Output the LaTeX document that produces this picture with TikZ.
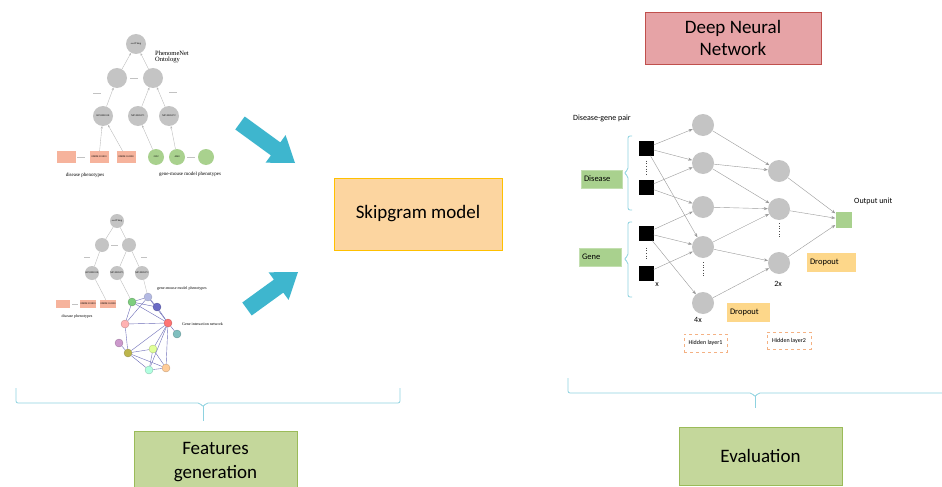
\documentclass[tikz,border=0pt]{standalone}
\usepackage{fontspec}
\setmainfont{Carlito}
\newfontfamily\ontofont{Liberation Serif}
\usetikzlibrary{arrows.meta}
\definecolor{cgray}{HTML}{C4C4C4}
\definecolor{csalmon}{HTML}{F6B39C}
\definecolor{cgreen}{HTML}{A9D18E}
\definecolor{cblue}{HTML}{3EB6CE}
\definecolor{cbrace}{HTML}{8ED2E0}
\definecolor{cskipfill}{HTML}{FCD5A0}
\definecolor{cskipdraw}{HTML}{FFC000}
\definecolor{cdnnfill}{HTML}{E6A3A6}
\definecolor{cdnndraw}{HTML}{C0504D}
\definecolor{cevalfill}{HTML}{C4D79B}
\definecolor{cevaldraw}{HTML}{9BBB59}
\definecolor{cdrop}{HTML}{FDD78A}
\definecolor{chid}{HTML}{F4B183}
\definecolor{cline}{HTML}{9A9A9A}
\tikzset{
  ocirc/.style={circle, fill=cgray, inner sep=0pt, minimum size=#1, font=\ontofont\fontsize{2.5}{3}\selectfont},
  osq/.style={rectangle, fill=csalmon, inner sep=0pt, minimum width=#1, minimum height=0.58*#1, font=\ontofont\fontsize{2.5}{3}\selectfont},
  ogc/.style={circle, fill=cgreen, inner sep=0pt, minimum size=16pt, font=\ontofont\fontsize{2.5}{3}\selectfont},
  otext/.style={font=\ontofont\fontsize{#1}{#1}\selectfont, inner sep=0pt},
  oedge/.style={draw=cline!70, line width=0.35pt, -{Stealth[length=2.5pt,width=2pt]}},
  oedge2/.style={draw=cline!70, line width=0.35pt},
  odash/.style={draw=cline!60, line width=0.4pt},
  ball/.style={circle, inner sep=0pt, minimum size=8pt, fill=#1, draw=#1!75!black, line width=0.3pt},
  nedge/.style={draw=cline!70!blue, line width=0.4pt},
  bigbox/.style={rectangle, inner sep=0pt, font=\fontsize{19}{22}\selectfont, align=center, line width=0.8pt},
  nn/.style={circle, fill=cgray, inner sep=0pt, minimum size=22pt},
  sq/.style={rectangle, fill=black, inner sep=0pt, minimum size=15pt},
  nnedge/.style={draw=cline, line width=0.4pt, -{Stealth[length=4pt,width=3pt]}},
  greenlab/.style={rectangle, fill=cgreen, draw=cgreen!70!white, inner sep=0pt, font=\fontsize{8.5}{10}\selectfont},
  dropbox/.style={rectangle, fill=cdrop, inner sep=0pt, font=\fontsize{8.5}{10}\selectfont},
  hidbox/.style={rectangle, fill=white, draw=chid, dashed, line width=0.5pt, inner sep=0pt, font=\fontsize{6}{7}\selectfont},
  smalltxt/.style={font=\fontsize{8}{10}\selectfont, inner sep=0pt},
  brace/.style={draw=cbrace, line width=0.8pt, rounded corners=2pt},
  dotv/.style={draw=black!70, dotted, line width=0.6pt}
}
\begin{document}
\begin{tikzpicture}[x=1pt,y=-1pt]
\useasboundingbox (0,0) rectangle (942,487);
\fill[white] (0,0) rectangle (942,487);

% ---------- top-left ontology ----------
\node[ocirc=20pt] (t0) at (136,44) {owl:Thing};
\node[otext=6.5, anchor=west, align=left] (tlab) at (155,57) {PhenomeNet\\Ontology};
\node[ocirc=20pt] (t1) at (117,78) {};
\node[ocirc=20pt] (t2) at (153,78) {};
\node[ocirc=20pt] (t3) at (103,116) {HP:0000118};
\node[ocirc=20pt] (t4) at (138,116) {MP:0005371};
\node[ocirc=20pt] (t5) at (169,116) {MP:0005372};
\node[osq=19pt] (s1) at (66,157) {};
\node[osq=19pt] (s2) at (99,157) {OMIM:201810};
\node[osq=19pt] (s3) at (126,157) {OMIM:163200};
\node[ogc] (g1) at (156,157) {2592};
\node[ogc] (g2) at (177,157) {4040};
\node[ogc] (g3) at (206,157) {};
\node[otext=5] (dlab1) at (85,175) {disease phenotypes};
\node[otext=5] (mlab1) at (190,174) {gene-mouse model phenotypes};
\draw[oedge] (t1) -- (t0);
\draw[oedge] (t2) -- (t0);
\draw[oedge] (t3) -- (t1);
\draw[oedge] (t4) -- (t2);
\draw[oedge] (t5) -- (t2);
\draw[oedge] (s2) -- (t3);
\draw[oedge] (s3) -- (t3);
\draw[oedge] (g1) -- (t4);
\draw[oedge] (g2) -- (t5);
\draw[odash] (130,78) -- (138,78);
\draw[odash] (93,93) -- (101,93);
\draw[odash] (169,92) -- (177,92);
\draw[odash] (77,157) -- (85,157);
\draw[odash] (187,157) -- (195,157);

% ---------- bottom-left ontology + network ----------
\node[ocirc=14pt] (b0) at (117,221) {owl:Thing};
\node[ocirc=14pt] (b1) at (102,245) {};
\node[ocirc=14pt] (b2) at (129,245) {};
\node[ocirc=14pt] (b3) at (92,273) {HP:0000118};
\node[ocirc=14pt] (b4) at (117,273) {MP:0005371};
\node[ocirc=14pt] (b5) at (142,273) {MP:0005372};
\node[osq=14pt] (bs1) at (63,304) {};
\node[osq=14pt] (bs2) at (88,304) {OMIM:201810};
\node[osq=14pt] (bs3) at (108,304) {OMIM:163200};
\node[otext=4] (dlab2) at (77,317) {disease phenotypes};
\node[otext=4, anchor=west] (mlab2) at (157,289) {gene-mouse model phenotypes};
\node[otext=4, anchor=west] (ilab) at (182,324) {Gene interaction network};
\draw[oedge2] (b0) -- (b1);
\draw[oedge2] (b0) -- (b2);
\draw[oedge2] (b1) -- (b3);
\draw[oedge2] (b2) -- (b4);
\draw[oedge2] (b2) -- (b5);
\draw[oedge2] (bs3) -- (b3);
\draw[odash] (111,245) -- (118,245);
\draw[odash] (84,257) -- (90,257);
\draw[odash] (141,257) -- (147,257);
\draw[odash] (72,304) -- (78,304);

\foreach \a/\b in {b4/n1,b5/n2}{}
\node[ball=green!45!gray!70!white] (n1) at (132,302) {};
\node[ball=cyan!30!blue!30!white] (n2) at (148,297) {};
\node[ball=blue!45!gray!80!white] (n3) at (157,307) {};
\node[ball=red!30!white] (n4) at (125,324) {};
\node[ball=red!55!white] (n5) at (168,323) {};
\node[ball=teal!50!white] (n6) at (177,334) {};
\node[ball=violet!40!white] (n7) at (119,343) {};
\node[ball=olive!60!white] (n8) at (128,353) {};
\node[ball=green!30!yellow!40!white] (n9) at (153,349) {};
\node[ball=green!40!cyan!30!white] (n10) at (149,370) {};
\node[ball=orange!40!white] (n11) at (166,368) {};
\draw[oedge2] (b4) -- (n1);
\draw[oedge2] (b5) -- (n2);
\foreach \a/\b in {n1/n2,n1/n3,n1/n5,n1/n4,n2/n3,n2/n5,n3/n5,n4/n5,n4/n8,n7/n8,n5/n6,n5/n8,n5/n9,n5/n10,n5/n11,n8/n9,n8/n10,n8/n11,n9/n10,n9/n11,n10/n11,n2/n4}
  \draw[nedge] (\a) -- (\b);

% ---------- big blue arrows ----------
\fill[cblue] (244.7,116.5) -- (280.3,142.4) -- (285.6,135.1) -- (295,163) -- (265.6,162.7) -- (270.9,155.4) -- (235.3,129.5) -- cycle;
\fill[cblue] (242.3,302.5) -- (273.9,279.6) -- (268.6,272.3) -- (298,272) -- (288.6,299.9) -- (283.3,292.6) -- (251.7,315.5) -- cycle;

% ---------- central boxes ----------
\node[bigbox, fill=cskipfill, draw=cskipdraw, minimum width=168pt, minimum height=72pt] (skip) at (418,214) {Skipgram model};
\node[bigbox, fill=cdnnfill, draw=cdnndraw, minimum width=176pt, minimum height=52pt] (dnn) at (733,38) {Deep Neural\\Network};
\node[bigbox, fill=cevalfill, draw=cevaldraw, minimum width=163pt, minimum height=60pt, anchor=north] (feat) at (215.5,431) {};
\node[font=\fontsize{19}{24}\selectfont, align=center, inner sep=0pt] (feattxt) at (215.5,462) {Features\\generation};
\node[bigbox, fill=cevalfill, draw=cevaldraw, minimum width=163pt, minimum height=58pt] (eval) at (760.5,456) {Evaluation};

% ---------- bottom braces ----------
\draw[brace] (16,388) -- (16,403) -- (200,403) -- (203,407) -- (206,403) -- (400,403) -- (400,388);
\draw[draw=cbrace, line width=0.8pt] (203,406) -- (203,421);
\draw[brace] (568,378) -- (568,393) -- (752,393) -- (755,397) -- (758,393) -- (946,393);
\draw[draw=cbrace, line width=0.8pt] (755,396) -- (755,408);

% ---------- neural network ----------
\node[smalltxt, anchor=west] (pair) at (573,118) {Disease-gene pair};
\node[sq] (q1) at (646,148) {};
\node[sq] (q2) at (646,187) {};
\node[sq] (q3) at (646,233) {};
\node[sq] (q4) at (646,273) {};
\node[smalltxt] (xlab) at (657,285) {x};
\draw[dotv] (q1.south) ++(0,5) coordinate (qa) -- ++(0,14) coordinate (qb);
\draw[dotv] (q3.south) ++(0,7) coordinate (qc) -- ++(0,12) coordinate (qd);
\draw[brace] (632,136) -- (628,136) -- (628,170) -- (624,173) -- (628,176) -- (628,210) -- (632,210);
\draw[brace] (632,222) -- (628,222) -- (628,256) -- (624,259) -- (628,262) -- (628,297) -- (632,297);
\node[greenlab, minimum width=41pt, minimum height=18pt, text width=35pt, align=left] (dis) at (601.5,179) {Disease};
\node[greenlab, minimum width=42pt, minimum height=18pt, text width=36pt, align=left] (gene) at (600,257) {Gene};

\node[nn] (h1) at (703,125) {};
\node[nn] (h2) at (703,163) {};
\node[nn] (h3) at (703,207) {};
\node[nn] (h4) at (703,247) {};
\node[nn] (h5) at (703,303) {};
\draw[dotv] (h4.south) ++(0,4) coordinate (ha) -- ++(0,14) coordinate (hb);
\node[smalltxt] (l4x) at (698,320) {4x};
\node[dropbox, minimum width=43pt, minimum height=19pt, text width=37pt, align=left] (drop1) at (748.5,312.5) {Dropout};
\node[hidbox, minimum width=43pt, minimum height=18pt] (hid1) at (705.5,343) {Hidden layer1};

\node[nn] (k1) at (779,171) {};
\node[nn] (k2) at (779,209) {};
\node[nn] (k3) at (779,263) {};
\draw[dotv] (k2.south) ++(0,3) coordinate (ka) -- ++(0,15) coordinate (kb);
\node[smalltxt] (l2x) at (778,284) {2x};
\node[dropbox, minimum width=49pt, minimum height=19pt, text width=43pt, align=left] (drop2) at (831.5,262.5) {Dropout};
\node[hidbox, minimum width=44pt, minimum height=17pt] (hid2) at (789,340.5) {Hidden layer2};

\node[rectangle, fill=cgreen, inner sep=0pt, minimum size=16pt] (out) at (843.5,219.5) {};
\node[smalltxt, anchor=west] (outlab) at (854,201) {Output unit};

\foreach \a/\b in {q1/h1,q1/h2,q1/h4,q2/h2,q2/h3,q3/h3,q3/h4,q3/h5,q4/h4,
                   h1/k1,h2/k1,h2/k2,h3/k2,h4/k2,h4/k3,h5/k3,
                   k1/out,k2/out,k3/out}
  \draw[nnedge] (\a) -- (\b);
\end{tikzpicture}
\end{document}
